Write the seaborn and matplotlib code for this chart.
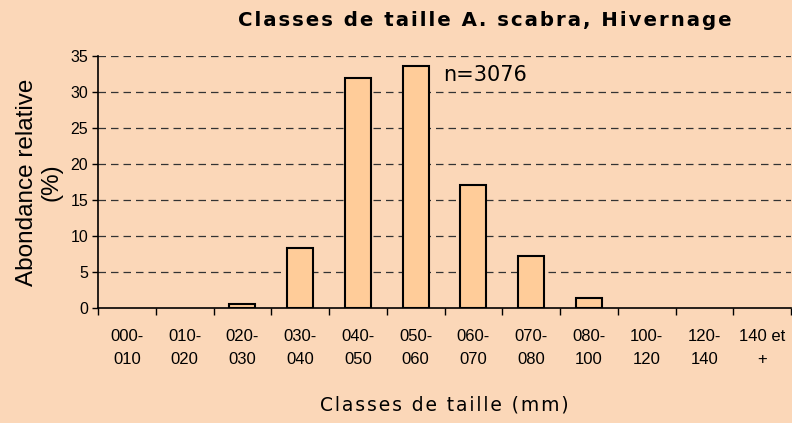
import numpy as np
import pandas as pd
import matplotlib
matplotlib.use('Agg')
import matplotlib.pyplot as plt
import seaborn as sns

# Classes de taille and relative abundance (%)
classes = ['000-\n010', '010-\n020', '020-\n030', '030-\n040', '040-\n050', '050-\n060',
           '060-\n070', '070-\n080', '080-\n100', '100-\n120', '120-\n140', '140 et\n+']
abondance = [0, 0, 0.6, 8.4, 32.0, 33.6, 17.1, 7.2, 1.4, 0, 0, 0]
y_ticks = [0, 5, 10, 15, 20, 25, 30, 35]

bg = '#fbd7b8'
df = pd.DataFrame({'Classe': classes, 'Abondance': abondance})


def spaced(s):
    # letter spacing with hair spaces
    return '\u200a'.join(s)


sns.set_style('white')
plt.rcParams['font.family'] = ['DejaVu Sans']
plt.rcParams['text.color'] = 'black'
plt.rcParams['axes.labelcolor'] = 'black'
plt.rcParams['xtick.color'] = 'black'
plt.rcParams['ytick.color'] = 'black'

fig = plt.figure(figsize=(7.92, 4.23), dpi=100, facecolor=bg)
ax = fig.add_axes([98 / 792, 1 - 308 / 423, 693 / 792, 252 / 423])
ax.set_facecolor(bg)

sns.barplot(data=df, x='Classe', y='Abondance', color='#ffcc99', edgecolor='black',
            linewidth=1.5, width=0.45, saturation=1, ax=ax)
# empty classes: no visible bar
for p in ax.patches:
    if p.get_height() == 0:
        p.set_visible(False)

ax.set_ylim(0, 35)
ax.set_xlim(-0.5, len(classes) - 0.5)
ax.set_yticks(y_ticks)
for v in y_ticks[1:]:
    ax.axhline(v, color='#333333', linestyle=(0, (6, 4)), linewidth=0.9, zorder=0)

ax.tick_params(axis='y', labelsize=11.5, length=4, width=1, pad=3, direction='out', left=True)
ax.set_xticks(range(len(classes)))
ax.set_xticklabels(classes, fontsize=12, family='Liberation Sans', linespacing=1.65)
ax.tick_params(axis='x', length=0, pad=15)
ax.set_xticks(np.arange(-0.5, len(classes), 1), minor=True)
ax.tick_params(axis='x', which='minor', length=5, width=1, bottom=True, direction='out')
for lab in ax.get_yticklabels():
    lab.set_family('Liberation Sans')

for s in ['top', 'right']:
    ax.spines[s].set_visible(False)
for s in ['left', 'bottom']:
    ax.spines[s].set_color('black')
    ax.spines[s].set_linewidth(1.2)

ax.set_xlabel(spaced('Classes de taille (mm)'), fontsize=13.5, labelpad=21)
ax.set_ylabel('Abondance relative\n(%)', fontsize=17.5, family='Liberation Sans',
              labelpad=6, linespacing=1.15)
ax.text(5.47, 32.3, 'n=3076', fontsize=15, va='center', ha='left')

fig.text(485 / 792, 1 - 20 / 423, spaced('Classes de taille A. scabra, Hivernage'),
         fontsize=14.2, fontweight='bold', ha='center', va='center')

fig.savefig('out.png', dpi=100, facecolor=bg)
